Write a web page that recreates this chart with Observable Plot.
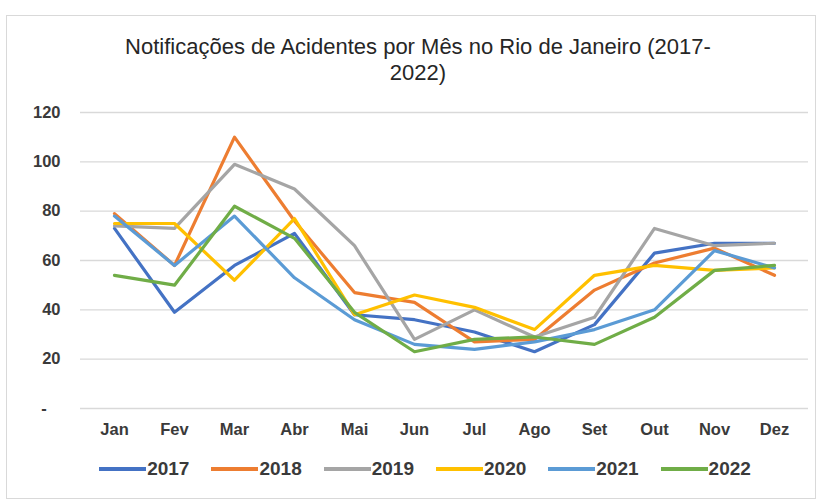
<!DOCTYPE html>
<html>
<head>
<meta charset="utf-8">
<script src="https://cdn.jsdelivr.net/npm/d3@7"></script>
<script src="https://cdn.jsdelivr.net/npm/@observablehq/plot@0.6"></script>
<style>
  html, body { margin: 0; padding: 0; background: #fff; }
  body { width: 824px; height: 503px; position: relative; overflow: hidden; font-family: "Liberation Sans", Arial, sans-serif; }
  #frame { position: absolute; left: 6px; top: 15px; width: 810px; height: 484px; border: 1px solid #d9d9d9; box-sizing: border-box; }
  #title { position: absolute; left: 0; width: 836px; top: 34px; text-align: center; font-size: 22px; line-height: 26px; color: #262626; }
  #chart { position: absolute; left: 0; top: 90px; }
  #legend { position: absolute; left: 0; top: 458px; width: 850px; display: flex; justify-content: center; gap: 22px; font-size: 19px; font-weight: bold; color: #3a3a3a; }
  .item { display: flex; align-items: center; }
  .sw { width: 47px; height: 4px; margin-right: 1px; }
</style>
</head>
<body>
<div id="frame"></div>
<div id="title">Notificações de Acidentes por Mês no Rio de Janeiro (2017-<br>2022)</div>
<div id="chart"></div>
<div id="legend"></div>
<script>
const months = ["Jan","Fev","Mar","Abr","Mai","Jun","Jul","Ago","Set","Out","Nov","Dez"];
const years = ["2017","2018","2019","2020","2021","2022"];
const colors = ["#4472C4","#ED7D31","#A5A5A5","#FFC000","#5B9BD5","#70AD47"];
const yTicks = [0,20,40,60,80,100,120];

const v2017 = [73, 39, 58, 71, 38, 36, 31, 23, 34, 63, 67, 67];
const v2018 = [79, 58, 110, 76, 47, 43, 27, 28, 48, 59, 65, 54];
const v2019 = [74, 73, 99, 89, 66, 28, 40, 29, 37, 73, 66, 67];
const v2020 = [75, 75, 52, 77, 38, 46, 41, 32, 54, 58, 56, 57];
const v2021 = [78, 58, 78, 53, 36, 26, 24, 27, 32, 40, 64, 57];
const v2022 = [54, 50, 82, 69, 39, 23, 28, 29, 26, 37, 56, 58];
const series = [v2017, v2018, v2019, v2020, v2021, v2022];

const data = [];
years.forEach((y, i) => months.forEach((m, j) => data.push({year: y, month: m, value: series[i][j]})));

const W = 824, H = 350;
const chart = Plot.plot({
  width: W,
  height: H,
  marginLeft: 80,
  marginRight: 16,
  marginTop: 22,
  marginBottom: 32,
  style: { fontFamily: "'Liberation Sans', Arial, sans-serif", fontSize: "16px", fontWeight: "bold", color: "#3a3a3a", background: "transparent" },
  x: { type: "point", domain: months, padding: 0.5, label: null },
  y: { domain: [0, 120], label: null },
  color: { domain: years, range: colors },
  marks: [
    Plot.ruleY(yTicks, { stroke: "#d9d9d9", strokeWidth: 1.3 }),
    Plot.axisY(yTicks, { tickSize: 0, tickPadding: 20, tickFormat: d => d === 0 ? "-\u00a0\u00a0\u00a0" : String(d), fontSize: 16.5, fill: "#3a3a3a", label: null }),
    Plot.axisX({ tickSize: 0, tickPadding: 15, fontSize: 16.5, fill: "#3a3a3a", label: null }),
    Plot.line(data, { x: "month", y: "value", z: "year", stroke: "year", strokeWidth: 3.2, strokeLinejoin: "round", strokeLinecap: "round" })
  ]
});
document.getElementById("chart").appendChild(chart);

const legend = document.getElementById("legend");
years.forEach((y, i) => {
  const it = document.createElement("div");
  it.className = "item";
  const sw = document.createElement("div");
  sw.className = "sw";
  sw.style.background = colors[i];
  const t = document.createElement("span");
  t.textContent = y;
  it.appendChild(sw); it.appendChild(t);
  legend.appendChild(it);
});
</script>
</body>
</html>
